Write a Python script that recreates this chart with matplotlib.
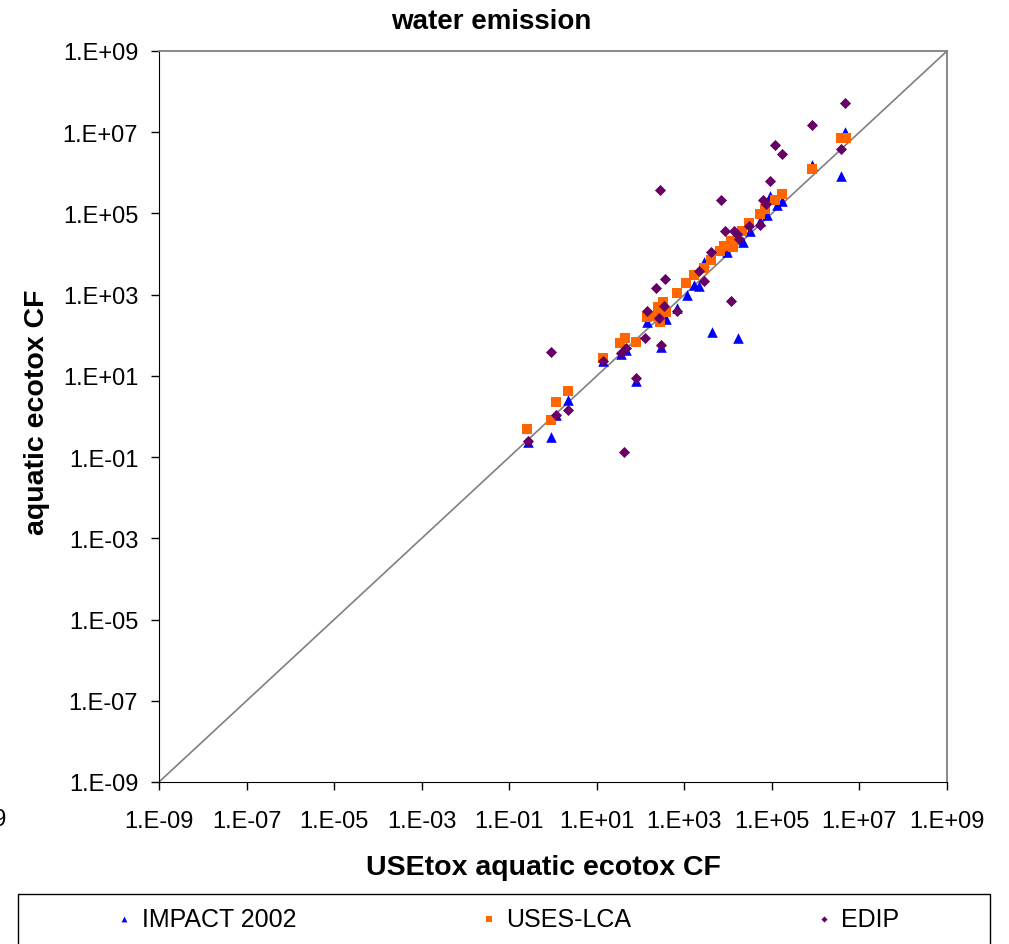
import numpy as np
import matplotlib.pyplot as plt
from matplotlib.patches import Rectangle

plt.rcParams['font.family'] = ['Liberation Sans', 'DejaVu Sans']

# log10 of the characterisation factors (x = USEtox, y = other model)
impact_x = [6.67, 6.58, 5.92, 5.24, 5.11, 4.96, 4.88, 4.73, 4.50, 4.33, 3.97, 3.46, 3.34, 3.21,
            3.05, 2.84, 2.57, 2.36, 2.14, 2.46, 1.67, 1.55, 1.15, 1.89, 3.64, 4.22, 0.35, 0.07,
            -0.05, -0.58]
impact_y = [7.00, 5.93, 6.19, 5.31, 5.21, 5.44, 4.96, 4.82, 4.58, 4.29, 4.04, 3.81, 3.21, 3.24,
            2.99, 2.66, 2.40, 2.52, 2.33, 1.72, 1.64, 1.54, 1.36, 0.88, 2.07, 1.93, 0.41, 0.04,
            -0.51, -0.62]

uses_x = [6.58, 6.70, 5.92, 5.22, 5.07, 4.84, 4.73, 4.48, 4.31, 4.07, 3.91, 3.81, 4.11, 3.62,
          3.46, 3.21, 3.04, 2.84, 2.52, 2.40, 2.14, 2.37, 2.57, 2.44, 1.89, 1.64, 1.53, 1.15,
          0.35, 0.06, -0.05, -0.59]
uses_y = [6.85, 6.87, 6.09, 5.49, 5.34, 5.11, 4.99, 4.76, 4.56, 4.33, 4.19, 4.08, 4.17, 3.86,
          3.66, 3.49, 3.29, 3.04, 2.83, 2.69, 2.44, 2.48, 2.57, 2.33, 1.84, 1.93, 1.81, 1.44,
          0.63, 0.35, -0.08, -0.32]

edip_x = [6.67, 5.92, 5.07, 5.22, 6.58, 4.96, 2.45, 3.83, 4.80, 4.86, 4.73, 4.48, 4.13, 4.21,
          4.25, 3.92, 3.62, 3.33, 3.45, 2.56, 2.36, 4.07, 2.15, 2.53, 2.84, 2.43, 2.11, 2.46,
          -0.05, 1.15, 1.55, 1.67, 1.89, 0.35, 0.07, -0.58, 1.62]
edip_y = [7.71, 7.17, 6.69, 6.47, 6.59, 5.81, 5.58, 5.33, 5.34, 5.23, 4.72, 4.68, 4.56, 4.49,
          4.37, 4.57, 4.06, 3.58, 3.33, 3.39, 3.16, 2.85, 2.61, 2.73, 2.61, 2.42, 1.93, 1.77,
          1.58, 1.37, 1.56, 1.68, 0.95, 0.16, 0.04, -0.60, -0.87]

tick_vals = [1e-9, 1e-7, 1e-5, 1e-3, 1e-1, 1e1, 1e3, 1e5, 1e7, 1e9]
tick_labels = ['1.E-09', '1.E-07', '1.E-05', '1.E-03', '1.E-01',
               '1.E+01', '1.E+03', '1.E+05', '1.E+07', '1.E+09']

W, H = 1009, 945
fig = plt.figure(figsize=(W / 100, H / 100), dpi=100)
ax = fig.add_axes([159 / W, 1 - 783 / H, 788 / W, 731 / H])

ax.plot([1e-9, 1e9], [1e-9, 1e9], color='#808080', lw=1.2, zorder=1)

ax.scatter(10 ** np.array(impact_x), 10 ** np.array(impact_y), marker='^', s=58,
           color='#0000FF', linewidths=0, label='IMPACT 2002', zorder=2)
ax.scatter(10 ** np.array(uses_x), 10 ** np.array(uses_y), marker='s', s=48,
           color='#FF6600', linewidths=0, label='USES-LCA', zorder=3)
ax.scatter(10 ** np.array(edip_x), 10 ** np.array(edip_y), marker='D', s=32,
           color='#660066', linewidths=0, label='EDIP', zorder=4)

ax.set_xscale('log')
ax.set_yscale('log')
ax.set_xlim(1e-9, 1e9)
ax.set_ylim(1e-9, 1e9)
ax.set_xticks(tick_vals)
ax.set_xticklabels(tick_labels)
ax.set_yticks(tick_vals)
ax.set_yticklabels(tick_labels)
ax.minorticks_off()
ax.tick_params(axis='both', direction='out', length=6, width=1, color='black')
ax.tick_params(axis='x', labelsize=17, pad=14)
ax.tick_params(axis='y', labelsize=17, pad=9)

for side in ['top', 'right']:
    ax.spines[side].set_color('#808080')
    ax.spines[side].set_linewidth(1.3)
for side in ['left', 'bottom']:
    ax.spines[side].set_color('black')

fig.text(491 / W, 1 - 22 / H, 'water emission', ha='center', va='center',
         fontsize=20, fontweight='bold')
fig.text(543 / W, 1 - 868 / H, 'USEtox aquatic ecotox CF', ha='center', va='center',
         fontsize=20.5, fontweight='bold')
fig.text(37 / W, 1 - 412 / H, 'aquatic ecotox CF', ha='center', va='center',
         rotation=90, fontsize=20.5, fontweight='bold')

# fragment of a neighbouring chart label at the left edge
fig.text(7 / W, 1 - 820 / H, '1.E-09', ha='right', va='center', fontsize=17)

# legend box runs past the bottom edge of the picture
fig.patches.append(Rectangle((18 / W, -0.05), 972 / W, 0.05 + 1 - 895 / H,
                             transform=fig.transFigure, fill=False, edgecolor='black', lw=1))
fig.legend(loc='center left', bbox_to_anchor=(114 / W, 1 - 920 / H), ncol=3, frameon=False,
           fontsize=18, markerscale=0.55, handlelength=0.8, handletextpad=0.3,
           columnspacing=7.3, borderaxespad=0, borderpad=0, scatterpoints=1)

fig.savefig('out.png', dpi=100)
